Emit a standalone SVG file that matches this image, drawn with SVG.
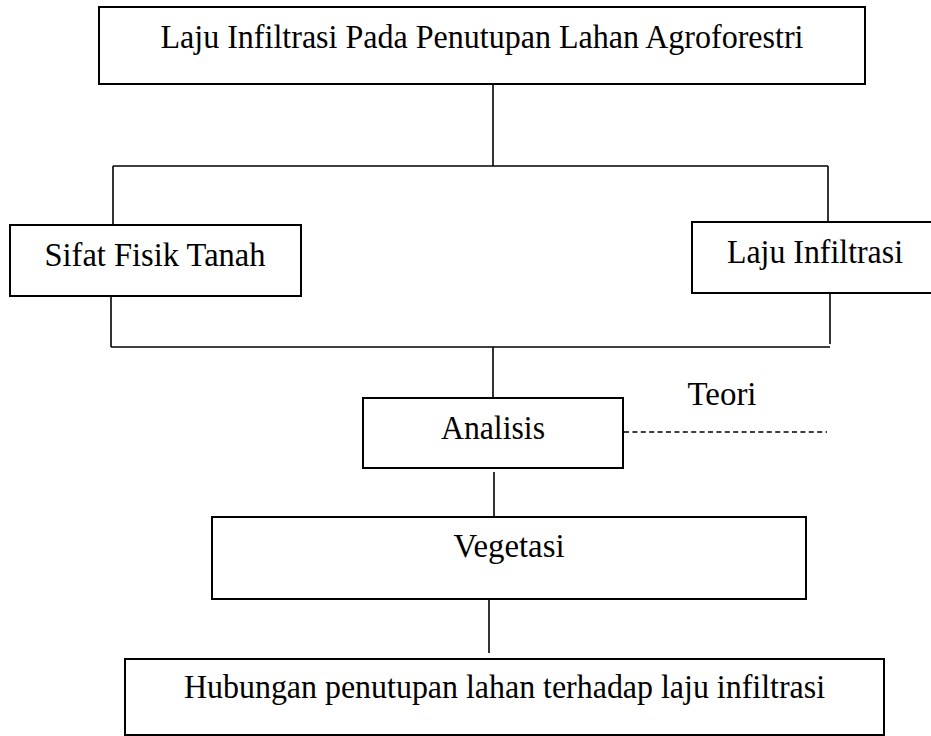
<svg xmlns="http://www.w3.org/2000/svg" width="931" height="736" viewBox="0 0 931 736">
<style>
.box{fill:#fff;stroke:#000;stroke-width:2}
.t{font-family:"Liberation Serif","Times New Roman",serif;font-size:34px;fill:#000;text-anchor:middle}
.ln{stroke:#000;stroke-width:1.6;fill:none}
.dash{stroke:#000;stroke-width:1.6;stroke-dasharray:5 3.4;fill:none}
</style>
<rect width="931" height="736" fill="#fff"/>
<g id="connectors">
<line class="ln" x1="493" y1="84" x2="493" y2="166"/>
<line class="ln" x1="113" y1="166" x2="828" y2="166"/>
<line class="ln" x1="113" y1="166" x2="113" y2="225"/>
<line class="ln" x1="828" y1="166" x2="828" y2="222"/>
<line class="ln" x1="111" y1="296" x2="111" y2="347"/>
<line class="ln" x1="830" y1="293" x2="830" y2="344"/>
<line class="ln" x1="111" y1="347" x2="830" y2="347"/>
<line class="ln" x1="493" y1="347" x2="493" y2="398"/>
<line class="dash" x1="624" y1="432" x2="827" y2="432"/>
<line class="ln" x1="494" y1="472" x2="494" y2="517"/>
<line class="ln" x1="489" y1="600" x2="489" y2="653"/>
</g>
<g id="n-top">
<rect class="box" x="99" y="7" width="766" height="77"/>
<text class="t" x="482" y="48" textLength="643" lengthAdjust="spacingAndGlyphs">Laju Infiltrasi Pada Penutupan Lahan Agroforestri</text>
</g>
<g id="n-sifat">
<rect class="box" x="10" y="225" width="291" height="71"/>
<text class="t" x="155" y="266" textLength="221" lengthAdjust="spacingAndGlyphs">Sifat Fisik Tanah</text>
</g>
<g id="n-laju">
<rect class="box" x="692" y="222" width="246" height="71"/>
<text class="t" x="815" y="263" textLength="176" lengthAdjust="spacingAndGlyphs">Laju Infiltrasi</text>
</g>
<g id="n-analisis">
<rect class="box" x="363" y="398" width="260" height="70"/>
<text class="t" x="493" y="439" textLength="104" lengthAdjust="spacingAndGlyphs">Analisis</text>
</g>
<g id="n-teori">
<text class="t" x="722" y="405" textLength="69" lengthAdjust="spacingAndGlyphs">Teori</text>
</g>
<g id="n-vegetasi">
<rect class="box" x="212" y="517" width="594" height="82"/>
<text class="t" x="509" y="557" textLength="111" lengthAdjust="spacingAndGlyphs">Vegetasi</text>
</g>
<g id="n-hubungan">
<rect class="box" x="125" y="659" width="759" height="76"/>
<text class="t" x="504.5" y="698" textLength="641" lengthAdjust="spacingAndGlyphs">Hubungan penutupan lahan terhadap laju infiltrasi</text>
</g>
</svg>
